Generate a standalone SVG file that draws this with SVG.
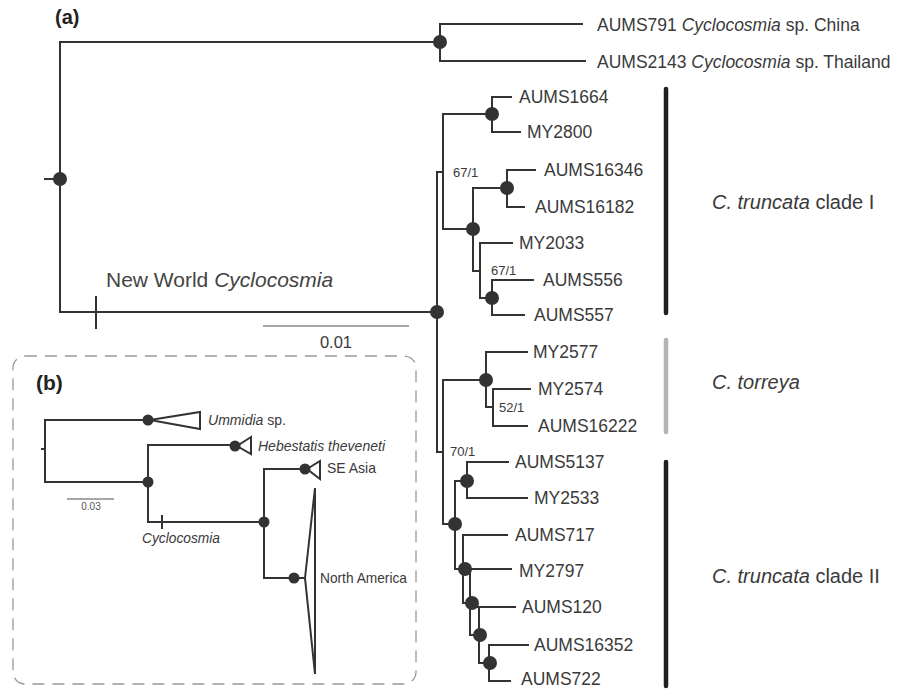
<svg xmlns="http://www.w3.org/2000/svg" width="912" height="689" viewBox="0 0 912 689">
<style>
.br{fill:none;stroke:#333;stroke-width:2;stroke-linecap:square}
.dot{fill:#333}
.leaf{font-family:"Liberation Sans",Arial,sans-serif;font-size:17.5px;fill:#3a3a3a}
.sup{font-family:"Liberation Sans",Arial,sans-serif;font-size:13px;fill:#3a3a3a}
.clade{font-family:"Liberation Sans",Arial,sans-serif;font-size:20px;fill:#3a3a3a}
.lab{font-family:"Liberation Sans",Arial,sans-serif;font-weight:bold;fill:#222}
.ins{font-family:"Liberation Sans",Arial,sans-serif;font-size:14.5px;fill:#3a3a3a}
</style>
<rect width="912" height="689" fill="#fff"/>
<text class="lab" x="55" y="24" font-size="20">(a)</text>

<g id="connectors">
<path class="br" d="M45,179H60 M60,42V312 M60,42H440 M60,312H437
M440,24V61 M440,24H582 M440,61H585
M437,172V452 M437,172H443 M443,114V229 M443,114H492 M492,97V132 M492,97H511 M492,132H520
M443,229H473 M473,188V271 M473,188H507 M507,170V207 M507,170H535 M507,207H524
M473,271H480 M480,243V298 M480,243H512 M480,298H492 M492,280V315 M492,280H533 M492,315H524
M437,452H443 M443,380V524 M443,380H486 M486,352V407 M486,352H527 M486,407H493 M493,389V426 M493,389H530 M493,426H527
M443,524H455 M455,481V569 M455,481H467 M467,462V498 M467,462H508 M467,498H527
M455,569H463 M463,535V603 M463,535H507 M463,569H511 M463,603H470 M470,571V635 M470,607H515
M470,635H479 M479,607V663 M479,663H489 M489,645V681 M489,645H528 M489,681H510"/>
<path d="M96,296V329" stroke="#333" stroke-width="2"/>
<line x1="263" y1="326" x2="409" y2="326" stroke="#888" stroke-width="1.5"/>
</g>

<g id="nodes">
<circle class="dot" cx="440" cy="42" r="7"/>
<circle class="dot" cx="60" cy="179" r="7"/>
<circle class="dot" cx="437" cy="312" r="7"/>
<circle class="dot" cx="492" cy="114" r="7"/>
<circle class="dot" cx="473" cy="229" r="7"/>
<circle class="dot" cx="507" cy="188" r="7"/>
<circle class="dot" cx="492" cy="298" r="7"/>
<circle class="dot" cx="486" cy="380" r="7"/>
<circle class="dot" cx="467" cy="481" r="7"/>
<circle class="dot" cx="455" cy="524" r="7"/>
<circle class="dot" cx="465" cy="569" r="7"/>
<circle class="dot" cx="472" cy="603" r="7"/>
<circle class="dot" cx="480" cy="635" r="7"/>
<circle class="dot" cx="490" cy="663" r="7"/>
</g>

<g id="support">
<text class="sup" x="453" y="177">67/1</text>
<text class="sup" x="491" y="275">67/1</text>
<text class="sup" x="499" y="412">52/1</text>
<text class="sup" x="450" y="456">70/1</text>
</g>

<g id="scale-a"><text x="336" y="348" text-anchor="middle" font-family="Liberation Sans,Arial,sans-serif" font-size="16.5" fill="#3a3a3a">0.01</text></g>
<g id="newworld"><text x="106" y="287" font-family="Liberation Sans,Arial,sans-serif" font-size="21" fill="#444">New World <tspan font-style="italic">Cyclocosmia</tspan></text></g>

<g id="leaf-AUMS791"><text class="leaf" x="597" y="31">AUMS791 <tspan font-style="italic">Cyclocosmia</tspan> sp. China</text></g>
<g id="leaf-AUMS2143"><text class="leaf" x="597" y="68">AUMS2143 <tspan font-style="italic">Cyclocosmia</tspan> sp. Thailand</text></g>
<g id="leaf-AUMS1664"><text class="leaf" x="519" y="103">AUMS1664</text></g>
<g id="leaf-MY2800"><text class="leaf" x="527" y="138">MY2800</text></g>
<g id="leaf-AUMS16346"><text class="leaf" x="544" y="176">AUMS16346</text></g>
<g id="leaf-AUMS16182"><text class="leaf" x="535" y="213">AUMS16182</text></g>
<g id="leaf-MY2033"><text class="leaf" x="519" y="249">MY2033</text></g>
<g id="leaf-AUMS556"><text class="leaf" x="543" y="286">AUMS556</text></g>
<g id="leaf-AUMS557"><text class="leaf" x="534" y="321">AUMS557</text></g>
<g id="leaf-MY2577"><text class="leaf" x="533" y="358">MY2577</text></g>
<g id="leaf-MY2574"><text class="leaf" x="538" y="395">MY2574</text></g>
<g id="leaf-AUMS16222"><text class="leaf" x="538" y="432">AUMS16222</text></g>
<g id="leaf-AUMS5137"><text class="leaf" x="515" y="468">AUMS5137</text></g>
<g id="leaf-MY2533"><text class="leaf" x="534" y="504">MY2533</text></g>
<g id="leaf-AUMS717"><text class="leaf" x="515" y="541">AUMS717</text></g>
<g id="leaf-MY2797"><text class="leaf" x="519" y="577">MY2797</text></g>
<g id="leaf-AUMS120"><text class="leaf" x="522" y="613">AUMS120</text></g>
<g id="leaf-AUMS16352"><text class="leaf" x="534" y="651">AUMS16352</text></g>
<g id="leaf-AUMS722"><text class="leaf" x="521" y="685">AUMS722</text></g>

<g id="clade-I">
<line x1="666" y1="89" x2="666" y2="313" stroke="#231f20" stroke-width="4.5" stroke-linecap="round"/>
<text class="clade" x="712" y="209"><tspan font-style="italic">C. truncata</tspan> clade I</text>
</g>
<g id="clade-torreya">
<line x1="666" y1="340" x2="666" y2="432" stroke="#b3b3b5" stroke-width="4.5" stroke-linecap="round"/>
<text class="clade" x="712" y="389" font-style="italic">C. torreya</text>
</g>
<g id="clade-II">
<line x1="666" y1="462" x2="666" y2="686" stroke="#231f20" stroke-width="4.5" stroke-linecap="round"/>
<text class="clade" x="712" y="583"><tspan font-style="italic">C. truncata</tspan> clade II</text>
</g>

<g id="inset-b">
<rect x="13" y="356" width="403" height="328" rx="12" fill="none" stroke="#999" stroke-width="1.3" stroke-dasharray="12 8"/>
<text class="lab" x="36" y="390" font-size="21">(b)</text>
<g id="inset-connectors">
<path class="br" d="M42,449H45 M45,420V482 M45,420H148 M45,482H148 M148,445V522 M148,445H235 M148,522H264 M264,469V578 M264,469H305 M264,578H294 L305,578"/>
<path d="M162,515V529" stroke="#333" stroke-width="2"/>
<polygon points="150,420 200,412 200,429" fill="none" stroke="#333" stroke-width="2"/>
<polygon points="237,446 251,437 251,454" fill="none" stroke="#333" stroke-width="2"/>
<polygon points="307,469 320,461 320,479" fill="none" stroke="#333" stroke-width="2"/>
<polygon points="305,578 315,488 315,674" fill="none" stroke="#333" stroke-width="2"/>
<line x1="67" y1="499" x2="114" y2="499" stroke="#888" stroke-width="1.5"/>
</g>
<g id="inset-nodes">
<circle class="dot" cx="148" cy="420" r="5.5"/>
<circle class="dot" cx="148" cy="482" r="5.5"/>
<circle class="dot" cx="235" cy="446" r="5.5"/>
<circle class="dot" cx="264" cy="522" r="5.5"/>
<circle class="dot" cx="305" cy="469" r="5.5"/>
<circle class="dot" cx="294" cy="578" r="5.5"/>
</g>
<text x="91" y="510" text-anchor="middle" font-family="Liberation Sans,Arial,sans-serif" font-size="10" fill="#555">0.03</text>
<g id="ummidia"><text class="ins" x="208" y="425" textLength="78" lengthAdjust="spacingAndGlyphs"><tspan font-style="italic">Ummidia</tspan> sp.</text></g>
<g id="hebestatis"><text class="ins" x="258" y="451" font-style="italic" textLength="127" lengthAdjust="spacingAndGlyphs">Hebestatis theveneti</text></g>
<g id="seasia"><text class="ins" x="327" y="473" textLength="49" lengthAdjust="spacingAndGlyphs">SE Asia</text></g>
<g id="northamerica"><text class="ins" x="320" y="583" textLength="87" lengthAdjust="spacingAndGlyphs">North America</text></g>
<g id="cyclocosmia"><text class="ins" x="142" y="543" font-style="italic" textLength="78" lengthAdjust="spacingAndGlyphs">Cyclocosmia</text></g>
</g>
</svg>
